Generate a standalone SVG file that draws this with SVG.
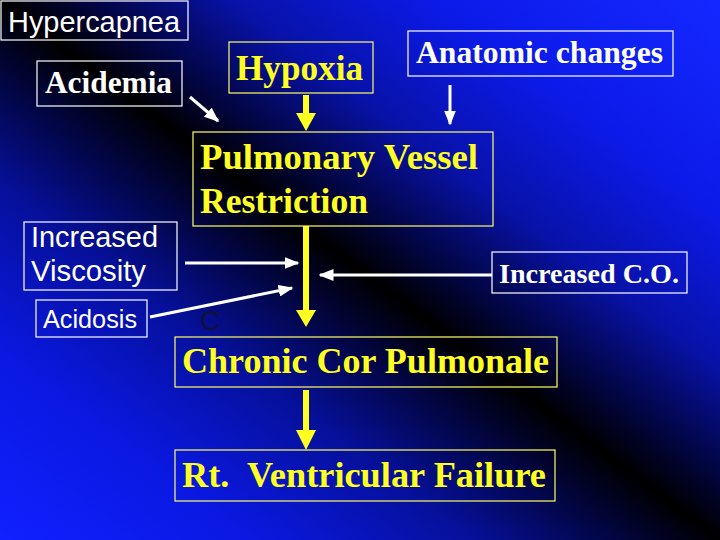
<svg xmlns="http://www.w3.org/2000/svg" width="720" height="540" viewBox="0 0 720 540">
<defs>
<linearGradient id="bg" x1="101" y1="616" x2="619" y2="-76" gradientUnits="userSpaceOnUse">
<stop offset="0" stop-color="#1020ff"/>
<stop offset="0.18" stop-color="#0a18e0"/>
<stop offset="0.33" stop-color="#06109a"/>
<stop offset="0.43" stop-color="#020540"/>
<stop offset="0.5" stop-color="#000000"/>
<stop offset="0.56" stop-color="#020540"/>
<stop offset="0.66" stop-color="#0812a8"/>
<stop offset="0.8" stop-color="#0c1ae8"/>
<stop offset="1" stop-color="#1428ff"/>
</linearGradient>
<marker id="wh" markerWidth="5" markerHeight="4" refX="4.5" refY="2" orient="auto" markerUnits="strokeWidth">
<path d="M0,0 L5,2 L0,4 Z" fill="#ffffff"/>
</marker>
</defs>
<style>
.box{fill:none;stroke-width:1.2}
.wb{stroke:#ffffff}
.yb{stroke:#ffff66}
.sans{font-family:"Liberation Sans",Arial,sans-serif;fill:#ffffff}
.serif{font-family:"Liberation Serif","Times New Roman",serif;font-weight:bold}
.w{fill:#ffffff}
.y{fill:#ffff22}
.wl{stroke:#ffffff;stroke-width:3;fill:none}
.yl{stroke:#ffff22;stroke-width:6;fill:none}
.yh{fill:#ffff22}
</style>
<rect x="0" y="0" width="720" height="540" fill="url(#bg)"/>

<g id="connectors">
<line class="wl" x1="190" y1="97" x2="218" y2="121" marker-end="url(#wh)"/>
<line class="yl" x1="306" y1="95" x2="306" y2="115"/>
<polygon class="yh" points="296,113 316,113 306,131"/>
<line class="wl" x1="450" y1="85" x2="450" y2="124" marker-end="url(#wh)"/>
<line class="yl" x1="306" y1="226" x2="306" y2="312"/>
<polygon class="yh" points="296,310 316,310 306,327"/>
<line class="wl" x1="185" y1="263" x2="298" y2="263" marker-end="url(#wh)"/>
<line class="wl" x1="150" y1="317" x2="292" y2="288" marker-end="url(#wh)"/>
<line class="wl" x1="492" y1="275" x2="320" y2="275" marker-end="url(#wh)"/>
<line class="yl" x1="306" y1="390" x2="306" y2="432"/>
<polygon class="yh" points="296,430 316,430 306,450"/>
</g>

<g id="hypercapnea">
<rect x="1" y="1" width="187" height="39" fill="#000010" class="box wb"/>
<text x="8" y="32" class="sans" font-size="29" textLength="172" lengthAdjust="spacingAndGlyphs">Hypercapnea</text>
</g>
<g id="acidemia">
<rect x="37" y="61" width="145" height="45" class="box wb"/>
<text x="45" y="93" class="serif w" font-size="31" textLength="127" lengthAdjust="spacingAndGlyphs">Acidemia</text>
</g>
<g id="hypoxia">
<rect x="229" y="42" width="144" height="51" class="box yb"/>
<text x="236" y="80" class="serif y" font-size="35" textLength="127" lengthAdjust="spacingAndGlyphs">Hypoxia</text>
</g>
<g id="anatomic">
<rect x="408" y="31" width="265" height="45" class="box wb"/>
<text x="416" y="63" class="serif w" font-size="31" textLength="247" lengthAdjust="spacingAndGlyphs">Anatomic changes</text>
</g>
<g id="pulmonary">
<rect x="193" y="132" width="300" height="94" class="box yb"/>
<text x="200" y="169" class="serif y" font-size="36" textLength="278" lengthAdjust="spacingAndGlyphs">Pulmonary Vessel</text>
<text x="200" y="213" class="serif y" font-size="36" textLength="168" lengthAdjust="spacingAndGlyphs">Restriction</text>
</g>
<g id="viscosity">
<rect x="24" y="222" width="153" height="68" class="box wb"/>
<text x="31" y="247" class="sans" font-size="29" textLength="127" lengthAdjust="spacingAndGlyphs">Increased</text>
<text x="31" y="281" class="sans" font-size="29" textLength="115" lengthAdjust="spacingAndGlyphs">Viscosity</text>
</g>
<g id="acidosis">
<rect x="36" y="300" width="111" height="37" class="box wb"/>
<text x="43" y="328" class="sans" font-size="25" textLength="94" lengthAdjust="spacingAndGlyphs">Acidosis</text>
</g>
<g id="increasedco">
<rect x="492" y="252" width="195" height="41" class="box wb"/>
<text x="499" y="283" class="serif w" font-size="28" textLength="180" lengthAdjust="spacingAndGlyphs">Increased C.O.</text>
</g>
<text x="200" y="330" font-family="Liberation Sans,Arial,sans-serif" font-size="28" fill="#10103a">C</text>
<g id="chronic">
<rect x="175" y="337" width="382" height="50" class="box yb"/>
<text x="182" y="373" class="serif y" font-size="36" textLength="367" lengthAdjust="spacingAndGlyphs">Chronic Cor Pulmonale</text>
</g>
<g id="rtvf">
<rect x="175" y="450" width="380" height="51" class="box yb"/>
<text x="182" y="487" class="serif y" font-size="36" textLength="364" lengthAdjust="spacingAndGlyphs" xml:space="preserve">Rt.  Ventricular Failure</text>
</g>
</svg>
